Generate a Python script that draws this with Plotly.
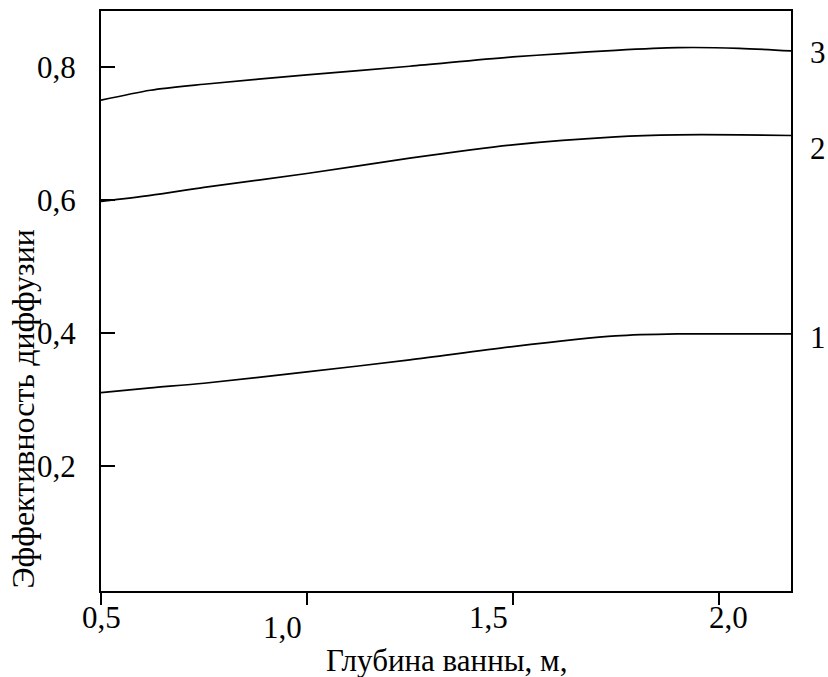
import plotly.graph_objects as go

depth = [0.5, 0.62, 0.75, 1.0, 1.25, 1.5, 1.75, 1.9, 2.05, 2.176]
curve1 = [0.311, 0.318, 0.325, 0.342, 0.360, 0.380, 0.396, 0.399, 0.399, 0.399]
curve2 = [0.598, 0.607, 0.619, 0.640, 0.663, 0.683, 0.695, 0.698, 0.698, 0.697]
curve3 = [0.750, 0.765, 0.774, 0.788, 0.801, 0.815, 0.825, 0.829, 0.828, 0.824]
curve_names = ["1", "2", "3"]

x_ticks = [0.5, 1.0, 1.5, 2.0]
x_tick_labels = ["0,5", "1,0", "1,5", "2,0"]
y_ticks = [0.2, 0.4, 0.6, 0.8]
y_tick_labels = ["0,2", "0,4", "0,6", "0,8"]

# label nudges (pixels) to mimic the hand-lettered original
x_label_nudge = [0, -24, -24, 10]
x_label_drop = [26, 36, 26, 26]
curve_label_drop = [-4, -13, -2]

FONT = "Liberation Serif"
FS = 31

fig = go.Figure()
for name, ys, dy in zip(curve_names, [curve1, curve2, curve3], curve_label_drop):
    fig.add_trace(go.Scatter(x=depth, y=ys, mode="lines", name=name,
                             line=dict(color="black", width=1.7, shape="spline", smoothing=0.8),
                             showlegend=False))
    fig.add_annotation(x=depth[-1], y=ys[-1], text=name, showarrow=False,
                       xanchor="center", yanchor="middle", xshift=27, yshift=dy,
                       font=dict(family=FONT, size=FS, color="black"))

for xv, lab, dx, dy in zip(x_ticks, x_tick_labels, x_label_nudge, x_label_drop):
    fig.add_annotation(x=xv, y=0, yref="paper", text=lab, showarrow=False,
                       xanchor="center", yanchor="middle", xshift=dx, yshift=-dy,
                       font=dict(family=FONT, size=FS, color="black"))

fig.update_xaxes(range=[0.5, 2.176], tickvals=x_ticks, ticktext=["" for _ in x_ticks],
                 ticks="outside", ticklen=12, tickwidth=1.5, tickcolor="black",
                 showline=True, linecolor="black", linewidth=2, mirror=True,
                 showgrid=False, zeroline=False)
fig.update_yaxes(range=[0.013, 0.884], tickvals=y_ticks, ticktext=y_tick_labels,
                 ticks="inside", ticklen=14, tickwidth=1.5, tickcolor="black",
                 showline=True, linecolor="black", linewidth=2, mirror=True,
                 showgrid=False, zeroline=False, ticklabelstandoff=17,
                 tickfont=dict(family=FONT, size=FS, color="black"))

fig.add_annotation(xref="paper", yref="paper", x=0.501, y=0, yshift=-69, yanchor="middle",
                   xanchor="center", text="Глубина ванны, м,", showarrow=False,
                   font=dict(family=FONT, size=FS, color="black"))
fig.add_annotation(xref="paper", yref="paper", x=0, y=0, xshift=-79, yanchor="bottom",
                   xanchor="center", text="Эффективность диффузии", textangle=-90,
                   showarrow=False, font=dict(family=FONT, size=32, color="black"))

fig.update_layout(width=828, height=677, margin=dict(l=101, r=37, t=9, b=86),
                  paper_bgcolor="white", plot_bgcolor="white",
                  font=dict(family=FONT, color="black"))

fig.write_html("out.html", config={"displayModeBar": False},
               post_script="document.body.style.margin='0';")
